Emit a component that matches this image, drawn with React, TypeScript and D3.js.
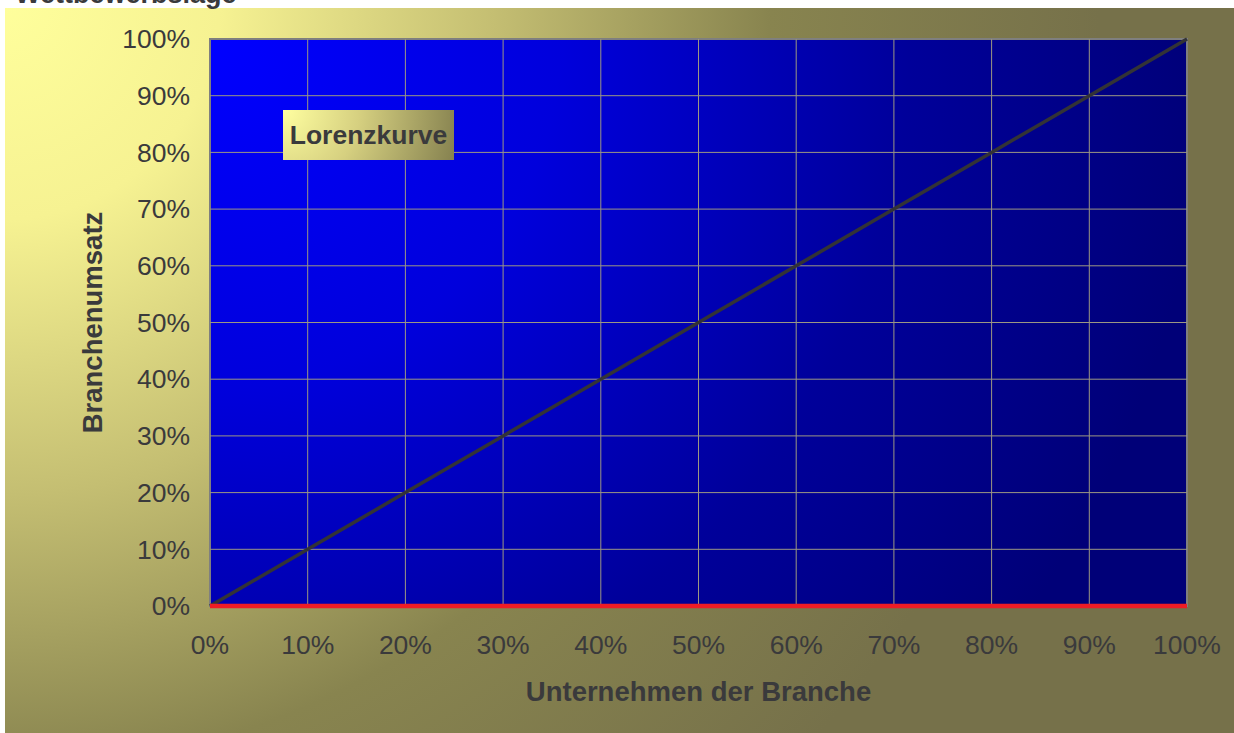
import React from "react";
import * as d3 from "d3";

const xValues = [0, 0.1, 0.2, 0.3, 0.4, 0.5, 0.6, 0.7, 0.8, 0.9, 1.0];
const equalLine = [0, 0.1, 0.2, 0.3, 0.4, 0.5, 0.6, 0.7, 0.8, 0.9, 1.0];
const lorenzLine = [0, 0, 0, 0, 0, 0, 0, 0, 0, 0, 0];
const tickValues = [0, 0.1, 0.2, 0.3, 0.4, 0.5, 0.6, 0.7, 0.8, 0.9, 1.0];
const title = "Wettbewerbslage";
const xTitle = "Unternehmen der Branche";
const yTitle = "Branchenumsatz";
const legendLabel = "Lorenzkurve";

const W = 1234;
const H = 733;
const PL = 210, PR = 1187, PT = 39, PB = 606;

export default function App() {
  const x = d3.scaleLinear().domain([0, 1]).range([PL, PR]);
  const y = d3.scaleLinear().domain([0, 1]).range([PB, PT]);
  const fmt = d3.format(".0%");
  const line = d3
    .line<number>()
    .x((_, i) => x(xValues[i]))
    .y((d) => y(d));
  const font = "Liberation Sans, Arial, Helvetica, sans-serif";
  const textColor = "#3a3a3c";

  return (
    <svg
      width={W}
      height={H}
      style={{ position: "absolute", left: 0, top: 0, background: "#fff" }}
      fontFamily={font}
    >
      <defs>
        <radialGradient id="bg" gradientUnits="userSpaceOnUse" cx={0} cy={0} r={1100}>
          <stop offset="0" stopColor="#ffff9c" />
          <stop offset="0.2" stopColor="#f6f292" />
          <stop offset="0.45" stopColor="#c4be72" />
          <stop offset="0.7" stopColor="#88844f" />
          <stop offset="1" stopColor="#76714a" />
        </radialGradient>
        <radialGradient id="plotbg" gradientUnits="userSpaceOnUse" cx={PL} cy={PT} r={1000}>
          <stop offset="0" stopColor="#0000ff" />
          <stop offset="0.35" stopColor="#0000dc" />
          <stop offset="0.7" stopColor="#00009a" />
          <stop offset="1" stopColor="#000078" />
        </radialGradient>
        <radialGradient id="legbg" gradientUnits="userSpaceOnUse" cx={283} cy={110} r={190}>
          <stop offset="0" stopColor="#ffffa0" />
          <stop offset="0.4" stopColor="#d6d080" />
          <stop offset="1" stopColor="#7c784a" />
        </radialGradient>
      </defs>

      <rect x={0} y={0} width={W} height={H} fill="#ffffff" />
      <rect x={5} y={8} width={W - 5} height={H - 8} fill="url(#bg)" />
      <text x={15} y={3} fontSize={27} fontWeight="bold" fill={textColor}>
        {title}
      </text>

      <rect
        x={PL}
        y={PT}
        width={PR - PL}
        height={PB - PT}
        fill="url(#plotbg)"
        stroke="#7f7f7f"
        strokeWidth={2}
      />

      {tickValues.map((t, i) => (
        <g key={"g" + i}>
          {t > 0 && t < 1 && (
            <line x1={x(t)} x2={x(t)} y1={PT} y2={PB} stroke="#9c9882" strokeWidth={1} />
          )}
          {t > 0 && t < 1 && (
            <line x1={PL} x2={PR} y1={y(t)} y2={y(t)} stroke="#9c9882" strokeWidth={1} />
          )}
        </g>
      ))}

      <path d={line(equalLine) || ""} fill="none" stroke="#333336" strokeWidth={3.5} />
      <path d={line(lorenzLine) || ""} fill="none" stroke="#ee1c25" strokeWidth={4.5} />

      {tickValues.map((t, i) => (
        <text
          key={"yt" + i}
          x={190}
          y={y(t)}
          dy="0.35em"
          textAnchor="end"
          fontSize={26.5}
          fill={textColor}
        >
          {fmt(t)}
        </text>
      ))}
      {tickValues.map((t, i) => (
        <text
          key={"xt" + i}
          x={x(t)}
          y={645}
          dy="0.35em"
          textAnchor="middle"
          fontSize={26.5}
          fill={textColor}
        >
          {fmt(t)}
        </text>
      ))}

      <text
        x={(PL + PR) / 2}
        y={691}
        dy="0.35em"
        textAnchor="middle"
        fontSize={27.5}
        fontWeight="bold"
        fill={textColor}
      >
        {xTitle}
      </text>
      <text
        transform={`translate(92,${(PT + PB) / 2}) rotate(-90)`}
        dy="0.35em"
        textAnchor="middle"
        fontSize={27.5}
        fontWeight="bold"
        fill={textColor}
      >
        {yTitle}
      </text>

      <rect x={283} y={110} width={171} height={50} fill="url(#legbg)" />
      <text x={368.5} y={135} dy="0.35em" textAnchor="middle" fontSize={26.5} fontWeight="bold" fill={textColor}>
        {legendLabel}
      </text>
    </svg>
  );
}
